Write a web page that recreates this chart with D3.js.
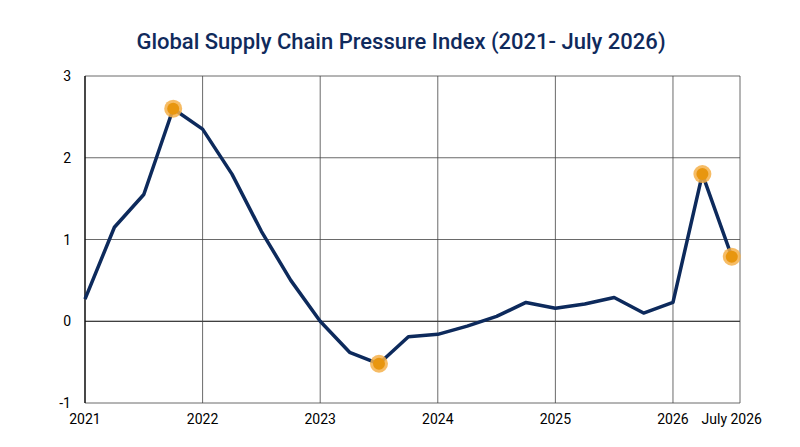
<!DOCTYPE html>
<html><head><meta charset="utf-8">
<script src="https://cdn.jsdelivr.net/npm/d3@7"></script>
<style>body{margin:0;background:#fff;font-family:Roboto,sans-serif}</style>
</head><body><svg id="c" width="800" height="447"></svg>
<script>
const dates = [2021,2021.25,2021.5,2021.75,2022,2022.25,2022.5,2022.75,2023,2023.25,2023.5,2023.75,2024,2024.25,2024.5,2024.75,2025,2025.25,2025.5,2025.75,2026,2026.25,2026.5];
const values = [0.27,1.15,1.55,2.6,2.35,1.8,1.1,0.5,0.0,-0.38,-0.52,-0.19,-0.16,-0.06,0.06,0.23,0.16,0.21,0.29,0.1,0.23,1.8,0.79];
const highlights = [3,10,21,22];
const xTicks = [2021,2022,2023,2024,2025,2026,2026.5];
const xTickLabels = ["2021","2022","2023","2024","2025","2026","July 2026"];
const yTicks = [-1,0,1,2,3];

const svg = d3.select("#c");
const L=85,R=740,T=76,B=403;
const x = d3.scaleLinear().domain([2021,2026.57]).range([L,R]);
const y = d3.scaleLinear().domain([-1,3]).range([B,T]);

svg.append("text").attr("x",401).attr("y",49).attr("text-anchor","middle")
  .attr("font-size",22).attr("font-weight",500).attr("fill","#102a5c")
  .text("Global Supply Chain Pressure Index (2021- July 2026)");

const g = svg.append("g");
yTicks.forEach(v=>{
  g.append("line").attr("x1",L).attr("x2",R).attr("y1",y(v)).attr("y2",y(v))
   .attr("stroke",v===0?"#000":"#444").attr("stroke-width",v===0?1.2:0.8);
  g.append("text").attr("x",L-14).attr("y",y(v)+5).attr("text-anchor","end")
   .attr("font-size",14).attr("fill","#000").text(v);
});
xTicks.slice(0,6).forEach(v=>{
  g.append("line").attr("x1",x(v)).attr("x2",x(v)).attr("y1",T).attr("y2",B)
   .attr("stroke","#444").attr("stroke-width",0.8);
});
g.append("line").attr("x1",R).attr("x2",R).attr("y1",T).attr("y2",B).attr("stroke","#444").attr("stroke-width",0.8);
g.append("line").attr("x1",L).attr("x2",L).attr("y1",T).attr("y2",B).attr("stroke","#000").attr("stroke-width",1.2);
xTicks.forEach((v,i)=>{
  g.append("text").attr("x",x(v)).attr("y",B+21).attr("text-anchor","middle")
   .attr("font-size",14).attr("fill","#000").text(xTickLabels[i]);
});

const line = d3.line().x((d,i)=>x(dates[i])).y(d=>y(d));
svg.append("path").datum(values).attr("d",line).attr("fill","none")
  .attr("stroke","#0d2a5c").attr("stroke-width",3.5).attr("stroke-linejoin","round");

highlights.forEach(i=>{
  svg.append("circle").attr("cx",x(dates[i])).attr("cy",y(values[i])).attr("r",9)
    .attr("fill","#f5b04a").attr("opacity",0.85);
  svg.append("circle").attr("cx",x(dates[i])).attr("cy",y(values[i])).attr("r",6)
    .attr("fill","#e8960f");
});
</script></body></html>
